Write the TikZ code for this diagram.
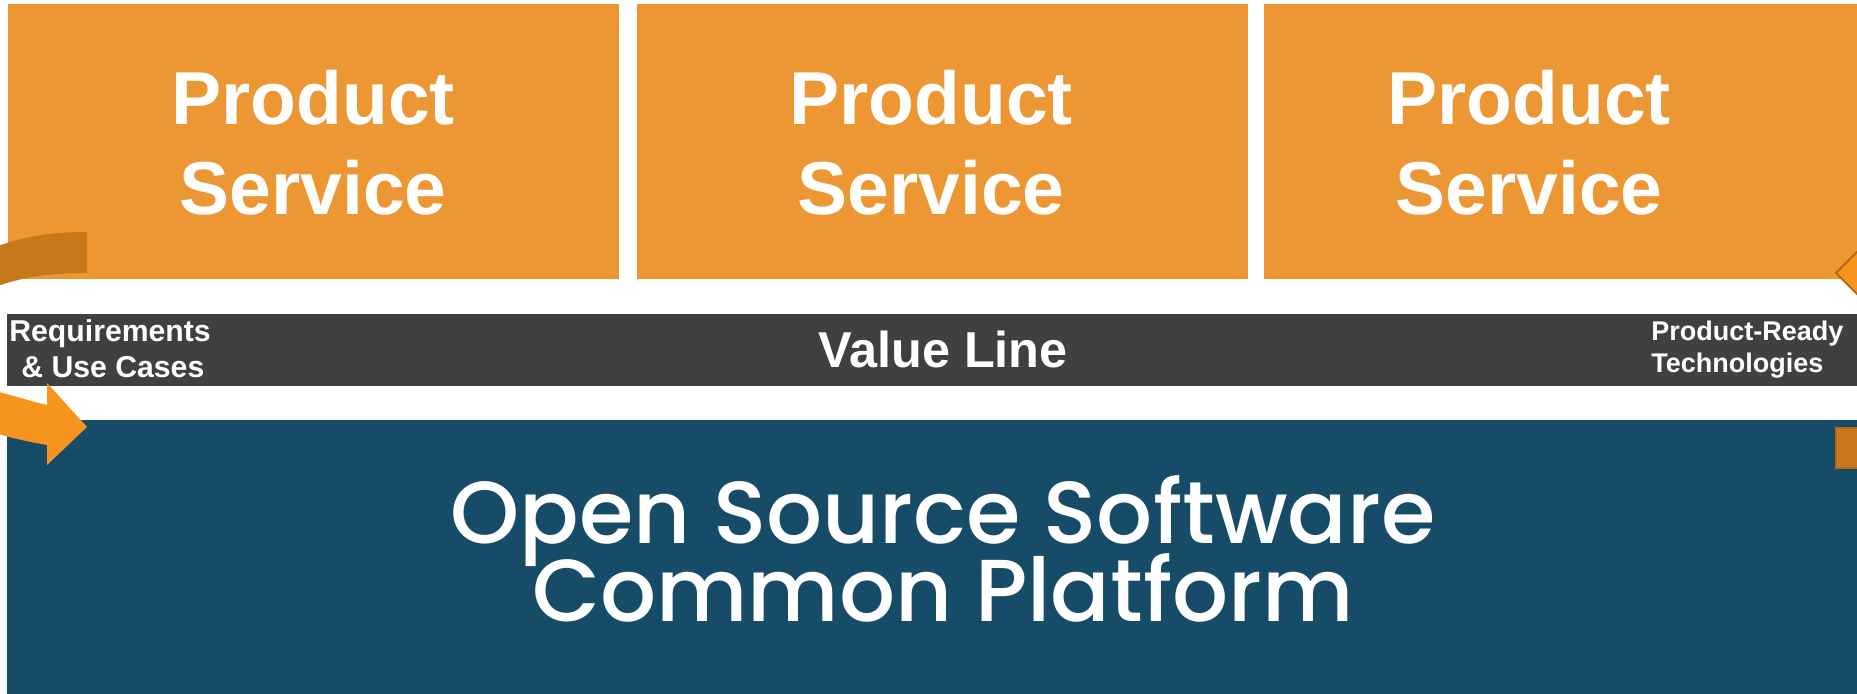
\documentclass[tikz,border=0pt]{standalone}
\usepackage{fontspec}
\setmainfont{Liberation Sans}
\newfontfamily\platformfont{Poppins Medium}
\usepackage{xcolor}
\usetikzlibrary{positioning}

\definecolor{boxorange}{RGB}{237,150,52}
\definecolor{bargrey}{RGB}{64,64,64}
\definecolor{platformblue}{RGB}{23,76,105}
\definecolor{arrowdark}{RGB}{199,120,26}
\definecolor{arrowlight}{RGB}{247,148,29}
\definecolor{arrowedge}{RGB}{185,105,20}

\newcommand{\platformsize}{\fontsize{44}{39.4}\selectfont\lineskiplimit-60pt\relax}

\begin{document}
\begin{tikzpicture}[x=0.5pt, y=-0.5pt, node distance=9pt]
        \tikzstyle{block} = [rectangle, fill=boxorange, minimum width=305.5pt, minimum height=137.5pt, inner sep=0pt, outer sep=0pt]
        \tikzstyle{blocktext} = [text=white, font=\bfseries\fontsize{37.5}{45}\selectfont, align=center, inner sep=0pt]
        \tikzstyle{band} = [rectangle, fill=bargrey, minimum width=925pt, minimum height=36pt, inner sep=0pt, outer sep=0pt]
        \tikzstyle{tag} = [text=white, font=\bfseries\fontsize{15.1}{18}\selectfont, align=left, inner sep=0pt, anchor=base west]
        \tikzstyle{platform} = [rectangle, fill=platformblue, minimum width=925pt, minimum height=137pt, inner sep=0pt, outer sep=0pt]

        \useasboundingbox (0,0) rectangle (1857,694);
        \clip (0,0) rectangle (1857,694);

        % product / service row
        \node [block, anchor=north west] (prod1) at (8,4) {};
        \node [block, right=9pt of prod1] (prod2) {};
        \node [block, right=8pt of prod2, minimum width=302.5pt] (prod3) {};
        \node [blocktext] (label1) at (313,143) {Product\\Service};
        \node [blocktext] (label2) at (931,143) {Product\\Service};
        \node [blocktext] (label3) at (1529,143) {Product\\Service};

        % value line
        \node [band, anchor=north west] (valueline) at (7,314) {};
        \node [text=white, font=\bfseries\fontsize{25.2}{30}\selectfont, inner sep=0pt] (valuetext) at (943,349) {Value Line};
        \node [tag] (req) at (9,378) {Requirements\\\hspace{6pt}\& Use Cases};
        \node [tag, font=\bfseries\fontsize{13.5}{16}\selectfont] (tech) at (1651,373) {Product-Ready\\Technologies};

        % common platform
        \node [platform, anchor=north west] (oss) at (7,420) {};
        \node [text=white, font=\platformfont\platformsize, align=center, inner sep=0pt] (osstext) at (943,549) {Open Source Software\\Common Platform};

        % loop arrows at the edges
        \fill [arrowdark] (87,232) -- (87,273) .. controls (45,273) and (20,278) .. (-5,287) -- (-5,247) .. controls (20,238) and (45,232) .. (87,232) -- cycle;
        \fill [arrowlight] (-5,391) .. controls (15,396) and (30,401) .. (47,405) -- (47,383) -- (87,427) -- (47,465) -- (47,445) .. controls (30,442) and (15,439) .. (-5,433) -- cycle;
        \filldraw [fill=arrowlight, draw=arrowedge, line width=1pt] (1870,239) -- (1836,273) -- (1870,307) -- cycle;
        \filldraw [fill=arrowdark, draw=arrowedge, line width=1pt] (1836,428) rectangle (1870,468);
\end{tikzpicture}
\end{document}
